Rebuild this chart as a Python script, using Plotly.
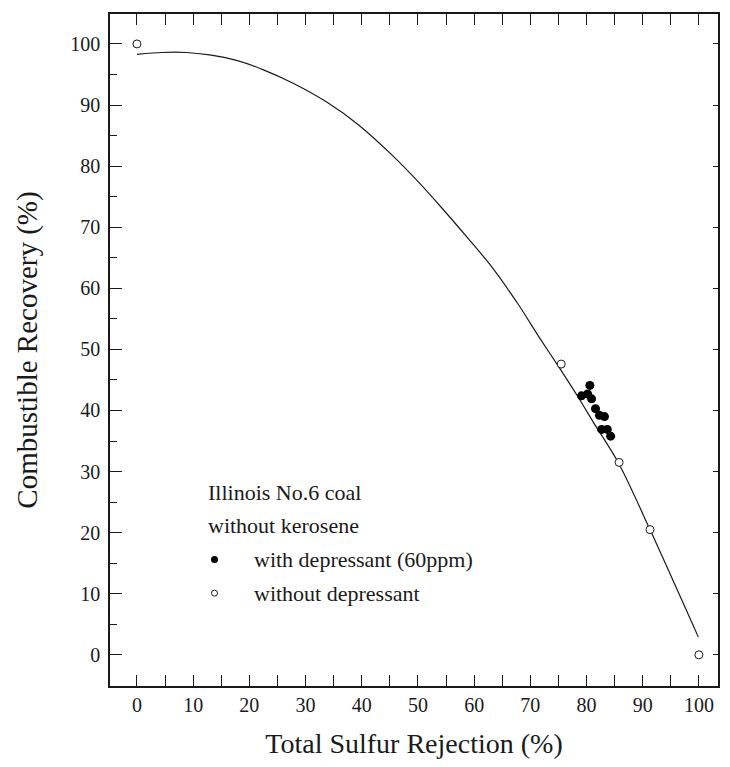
import plotly.graph_objects as go

# fitted curve
curve_x = [0, 4.4, 8.8, 12.9, 17.7, 22.4, 27.7, 33.9, 39.5, 45.4, 50.2, 54.3,
           58.8, 62.8, 67.9, 71.5, 75.3, 78.5, 81.2, 85.7, 91.3, 99.9]
curve_y = [98.3, 98.6, 98.6, 98.2, 97.3, 95.8, 93.6, 90.4, 86.7, 81.8, 77.3, 73.1,
           68.3, 63.9, 57.3, 52.1, 46.8, 42.2, 38.1, 31.4, 20.5, 2.9]

# with depressant (60ppm)
dep_x = [80.6, 79.1, 80.2, 80.9, 81.6, 82.3, 83.2, 82.7, 83.7, 84.3]
dep_y = [44.1, 42.4, 42.7, 41.9, 40.3, 39.2, 39.0, 36.9, 36.9, 35.8]

# without depressant
nodep_x = [0, 75.5, 85.8, 91.3, 100]
nodep_y = [100, 47.6, 31.5, 20.5, 0]

# in-plot legend text
note_lines = ["Illinois No.6 coal", "without kerosene"]
note_y = [26.5, 21.1]
key_labels = ["with depressant (60ppm)", "without depressant"]
key_y = [15.6, 10.1]

SERIF = "Liberation Serif, Times New Roman, serif"
INK = "#1a1a1a"
XR = [-4.8, 103.4]
YR = [-5.1, 104.9]

fig = go.Figure()
fig.add_trace(go.Scatter(
    x=curve_x, y=curve_y, mode="lines",
    line=dict(color=INK, width=1.2, shape="spline", smoothing=0.8),
    showlegend=False, hoverinfo="skip",
))
fig.add_trace(go.Scatter(
    x=dep_x, y=dep_y, mode="markers", marker=dict(color="black", size=9),
    name=key_labels[0], showlegend=False,
))
fig.add_trace(go.Scatter(
    x=nodep_x, y=nodep_y, mode="markers",
    marker=dict(color="white", size=8, line=dict(color=INK, width=1)),
    name=key_labels[1], showlegend=False,
))
# dummy trace so the right-hand axis (short ticks) is drawn
fig.add_trace(go.Scatter(x=[None], y=[None], yaxis="y2", showlegend=False))

# legend symbols
fig.add_trace(go.Scatter(x=[13.8], y=[key_y[0]], mode="markers",
                         marker=dict(color="black", size=7),
                         showlegend=False, hoverinfo="skip"))
fig.add_trace(go.Scatter(x=[13.8], y=[key_y[1]], mode="markers",
                         marker=dict(color="white", size=6, line=dict(color=INK, width=1)),
                         showlegend=False, hoverinfo="skip"))

font_ann = dict(family=SERIF, size=22, color=INK)
for txt, yy in zip(note_lines, note_y):
    fig.add_annotation(x=12.3, y=yy, text=txt, showarrow=False, xanchor="left", font=font_ann)
for txt, yy in zip(key_labels, key_y):
    fig.add_annotation(x=20.4, y=yy, text=txt, showarrow=False, xanchor="left", font=font_ann)

# page body has an 8px margin, so the figure is sized to fit the window
fig.update_layout(
    width=714, height=751,
    margin=dict(l=102, r=2, t=6, b=73),
    plot_bgcolor="white", paper_bgcolor="white",
    font=dict(family=SERIF, size=20, color=INK),
    xaxis=dict(
        range=XR, dtick=10, tick0=0, ticks="inside", ticklen=11, tickwidth=1.3,
        tickcolor=INK, showgrid=False, zeroline=False, showline=True, linecolor=INK,
        linewidth=1.5, mirror="allticks",
        minor=dict(dtick=5, tick0=0, ticks="inside", ticklen=6, tickcolor=INK, showgrid=False),
        title=dict(text="Total Sulfur Rejection (%)", font=dict(family=SERIF, size=28), standoff=21),
    ),
    yaxis=dict(
        range=YR, dtick=10, tick0=0, ticks="inside", ticklen=12, tickwidth=1.3,
        tickcolor=INK, showgrid=False, zeroline=False, showline=True, linecolor=INK,
        linewidth=1.5, mirror=True, ticklabelstandoff=4,
        minor=dict(dtick=5, tick0=0, ticks="inside", ticklen=7, tickcolor=INK, showgrid=False),
        title=dict(text="Combustible Recovery (%)", font=dict(family=SERIF, size=29), standoff=24),
    ),
    yaxis2=dict(
        range=YR, overlaying="y", side="right", dtick=10, tick0=0, ticks="inside",
        ticklen=5, tickcolor=INK, showticklabels=False, showgrid=False, zeroline=False,
    ),
)

fig.write_html("out.html")
